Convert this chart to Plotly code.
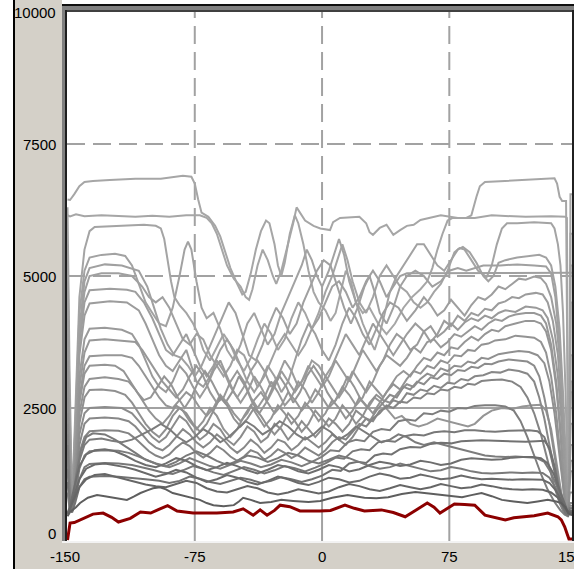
import plotly.graph_objects as go

# ---------------- data (x in axis units, y values) ----------------
s01 = [(-150,6450),(-148.5,6440),(-146,6550),(-143,6700),(-140,6780),(-135,6800),(-125,6820),(-110,6840),(-95,6840),(-88,6880),(-82,6900),(-77,6880),(-75,6750),(-73,6450),(-71,6200),(-67,6120),(-63,5950),(-60,5750),(-57,5450),(-54,5150),(-50,4850),(-47,4650),(-45,4700),(-42,5050),(-39,5500),(-36,5850),(-33,6050),(-31,6000),(-28,5600),(-26,5200),(-24,5000),(-22,5250),(-19,5800),(-16,6150),(-14,6000),(-11,5600),(-8,5100),(-5,4700),(-2,4500),(2,4350),(5,4150),(8,4300),(11,4700),(14,5100),(17,4900),(20,4500),(24,4300),(28,4400),(33,4100),(38,3900),(43,4100),(48,4400),(53,4600),(58,4750),(62,4900),(65,5150),(68,5500),(71,5800),(74,6050),(77,6100),(85,6100),(88,6150),(91,6500),(93,6700),(96,6780),(110,6800),(125,6830),(137,6850),(138.5,6750),(140,6500),(141.5,6420),(143.8,6420),(144.5,3500),(145,900),(145.4,600),(145.9,2500),(146.4,6550),(147.5,6550)]
s02 = [(-150,6150),(-148.5,6130),(-145,6170),(-140,6130),(-130,6150),(-120,6130),(-110,6120),(-100,6140),(-90,6120),(-80,6150),(-72,6150),(-68,6100),(-65,6000),(-62,5800),(-59,5500),(-56,5200),(-52,4950),(-48,4800),(-45,4600),(-43,4550),(-41,4750),(-38,5200),(-35,5500),(-32,5300),(-29,5000),(-27,4850),(-24,5100),(-20,5600),(-17,6000),(-15,6300),(-13,6200),(-10,6050),(-5,5950),(-1,5900),(4.7,5870),(6.5,6020),(10.6,6100),(22,6120),(26,6000),(28,5830),(30,5780),(34,5910),(38,5970),(42,5780),(46,5870),(50,5950),(54,5970),(58,6060),(70,6150),(80,6100),(90,6100),(100,6150),(120,6120),(135,6130),(143.5,6120),(144.3,6100),(145,2000),(145.4,650),(146,1800),(146.6,4500),(147.5,4500)]
s03 = [(-150,6300),(-148.8,3200),(-147.3,700),(-145.5,2500),(-143,4600),(-140,5500),(-137,5850),(-134,5930),(-120,5950),(-105,5970),(-98,5950),(-95,5900),(-93,5700),(-91,5300),(-89,4900),(-87,4600),(-84,4450),(-80,4300),(-76,4100),(-73,3900),(-70,3600),(-66,3400),(-62,3650),(-58,3900),(-54,3700),(-50,3400),(-46,3200),(-42,3450),(-38,3800),(-34,4100),(-30,3900),(-26,3600),(-22,3800),(-18,4200),(-14,4500),(-10,4300),(-6,4000),(-2,4300),(2,4700),(6,5000),(9,5300),(12,5600),(15,5300),(18,4900),(22,4500),(26,4300),(30,4600),(34,5000),(38,5200),(42,5000),(46,4800),(50,4700),(54,4500),(58,4400),(62,4500),(66,4700),(70,4850),(74,5100),(78,5450),(81,5530),(84,5500),(88,5300),(92,5100),(97,4980),(100,5200),(103,5600),(106,5900),(109,6000),(115,6000),(125,6020),(135,6000),(137,5900),(139,5600),(140.5,5200),(142,4300),(143.5,2800),(144.6,1000),(145.2,560),(145.8,1600),(146.4,5800),(147.5,5800)]
s04 = [(-150,5600),(-148.8,2500),(-147.2,650),(-145.5,2200),(-143,4300),(-140,5100),(-137,5350),(-130,5400),(-122,5420),(-116,5380),(-112,5200),(-108,4850),(-104,4500),(-100,4300),(-96,4100),(-92,4050),(-88,4400),(-84,5000),(-81,5500),(-79,5650),(-77,5500),(-74,4900),(-71,4400),(-68,4200),(-64,4300),(-60,4000),(-56,3600),(-52,3400),(-48,3700),(-44,4100),(-40,4300),(-36,4000),(-32,3700),(-28,3900),(-24,4300),(-20,4600),(-16,4900),(-12,5200),(-9,5500),(-6,5300),(-3,5000),(0,4800),(4,5100),(8,5500),(10,5700),(13,5400),(16,4900),(20,4500),(24,4100),(28,3800),(31,3600),(34,3900),(37,4300),(40,4700),(44,5000),(48,5200),(52,5400),(56,5600),(60,5600),(64,5400),(68,5200),(72,5100),(76,5300),(80,5500),(83,5550),(87,5450),(91,5250),(95,5000),(98,4900),(101,5000),(104,5250),(108,5300),(115,5350),(122,5380),(128,5400),(132,5350),(135,5200),(137.5,4800),(140,4000),(142,2800),(144,1300),(145,550),(145.8,1800),(146.5,5200),(147.5,5200)]
s05 = [(-150,5300),(-148.8,2300),(-147.3,600),(-145.5,2000),(-143,4000),(-140,4900),(-137,5150),(-128,5220),(-118,5200),(-108,5100),(-103,4800),(-99,4400),(-95,4000),(-91,3700),(-87,3500),(-83,3450),(-79,3300),(-75,3100),(-71,3300),(-67,3600),(-63,3900),(-59,4200),(-55,4500),(-51,4300),(-47,3900),(-43,3500),(-39,3400),(-35,3700),(-31,4100),(-27,4400),(-23,4200),(-19,3900),(-15,4100),(-11,4500),(-7,4800),(-3,5100),(1,5300),(5,5200),(9,4800),(13,4400),(17,4100),(21,4400),(25,4800),(28,5000),(31,4700),(34,4300),(38,4100),(42,4400),(46,4800),(50,5000),(55,5100),(60,5000),(65,4800),(70,4900),(75,5100),(80,5150),(85,5100),(90,5150),(95,5200),(105,5200),(115,5220),(125,5200),(132,5180),(135,5050),(137.5,4600),(140,3700),(142,2400),(144,1000),(145,480),(145.8,1500),(146.5,3500),(147.5,3500)]
s06 = [(-150,5100),(-148.8,2000),(-147.3,650),(-145.5,2000),(-143,3900),(-140,4700),(-137,5000),(-130,5050),(-120,5050),(-112,5000),(-106,4800),(-102,4600),(-98,4500),(-94,4600),(-90,4400),(-86,4100),(-82,3800),(-78,3700),(-74,3900),(-70,3800),(-66,3500),(-62,3300),(-58,3100),(-54,3300),(-50,3600),(-46,3500),(-42,3200),(-38,2900),(-34,3100),(-30,3400),(-26,3700),(-22,3900),(-18,3700),(-14,3500),(-10,3700),(-6,4000),(-2,4200),(2,4500),(6,4800),(10,4900),(14,4700),(18,4400),(22,4600),(26,4900),(30,5100),(34,4900),(38,4600),(42,4800),(46,5000),(50,5050),(60,5050),(70,5060),(80,5050),(90,5050),(100,5060),(110,5050),(120,5060),(130,5050),(140,5060),(147.5,5060)]
s07 = [(-150,4900),(-148.8,2000),(-147.3,600),(-145.5,1900),(-143,3700),(-140,4500),(-137,4730),(-125,4760),(-115,4740),(-110,4700),(-105,4500),(-100,4200),(-96,3900),(-92,3600),(-88,3500),(-84,3700),(-80,3900),(-76,3600),(-72,3300),(-68,3100),(-64,3300),(-60,3600),(-56,3800),(-52,3600),(-48,3300),(-44,3000),(-40,2800),(-36,3000),(-32,3300),(-28,3100),(-24,2800),(-20,3000),(-16,3400),(-12,3800),(-8,4100),(-4,3900),(0,3600),(4,3400),(8,3700),(12,4100),(16,4400),(20,4200),(24,3900),(28,3700),(32,4000),(36,4300),(40,4500),(45,4400),(50,4150),(55,4350),(60,4600),(64,4450),(68,4250),(72,4350),(76,4550),(80,4400),(84,4250),(88,4450),(92,4600),(96,4550),(100,4650),(104,4800),(108,4750),(112,4850),(116,4950),(120,4930),(125,4990),(129,4960),(132,4850),(135,4600),(138,4100),(140.5,3300),(142.5,2200),(144,1200),(145,600),(145.9,1500),(146.6,3000),(147.5,3000)]
s08 = [(-150,4200),(-148.8,1800),(-147.3,620),(-145.5,1800),(-143,3500),(-140,4250),(-137,4480),(-125,4520),(-115,4500),(-108,4350),(-104,4100),(-100,3800),(-96,3500),(-92,3300),(-88,3200),(-84,3400),(-80,3600),(-77,3300),(-74,3000),(-70,2900),(-66,3100),(-62,3400),(-58,3200),(-54,2900),(-50,2700),(-46,2900),(-42,3200),(-38,3400),(-34,3200),(-30,2900),(-26,3100),(-22,3400),(-18,3200),(-14,2900),(-10,3100),(-6,3400),(-2,3300),(2,3100),(6,3300),(10,3600),(14,3900),(18,3700),(22,3500),(26,3800),(30,4100),(34,3900),(38,3700),(42,3500),(46,3700),(50,3900),(55,4100),(60,3950),(64,3750),(68,3900),(72,4150),(76,4050),(80,4250),(84,4150),(88,4300),(92,4250),(96,4380),(100,4350),(104,4480),(108,4520),(112,4600),(116,4580),(120,4650),(126,4680),(130,4650),(133,4500),(136,4150),(139,3500),(141,2600),(143,1500),(144.5,700),(145.5,1200),(146.5,2800),(147.5,2800)]
s09 = [(-150,3900),(-148.8,1600),(-147.3,600),(-145.5,1600),(-143,3100),(-140,3800),(-137,4000),(-128,4020),(-118,3980),(-112,3900),(-108,3700),(-104,3400),(-100,3100),(-96,2900),(-92,2800),(-88,3000),(-84,3300),(-80,3150),(-76,2900),(-72,2700),(-68,2900),(-64,3200),(-60,3400),(-56,3100),(-52,2800),(-48,2600),(-44,2800),(-40,3100),(-36,2900),(-32,2650),(-28,2900),(-24,3200),(-20,3000),(-16,2800),(-12,3000),(-8,3300),(-4,3100),(0,2900),(4,3100),(8,3400),(12,3200),(16,3000),(20,3300),(24,3600),(28,3400),(32,3200),(36,3400),(40,3700),(44,3900),(48,3800),(52,3600),(56,3700),(60,3950),(64,4050),(68,3850),(72,3950),(76,4100),(80,3980),(84,4120),(88,4200),(92,4150),(96,4250),(100,4200),(104,4300),(108,4350),(114,4320),(120,4420),(126,4400),(130,4350),(133,4200),(136,3800),(139,3100),(141,2300),(143,1300),(144.5,650),(145.5,1000),(146.5,2200),(147.5,2200)]
s10 = [(-150,3600),(-148.8,1500),(-147.3,580),(-145.5,1500),(-143,2900),(-140,3550),(-137,3780),(-128,3800),(-118,3780),(-110,3750),(-106,3600),(-102,3400),(-98,3200),(-94,3000),(-90,2850),(-86,2700),(-82,2850),(-78,3100),(-74,3300),(-70,3100),(-66,2800),(-62,2600),(-58,2700),(-54,3000),(-50,3200),(-46,3000),(-42,2700),(-38,2500),(-34,2700),(-30,3000),(-26,2800),(-22,2550),(-18,2700),(-14,3000),(-10,2850),(-6,2600),(-2,2800),(2,3100),(6,2900),(10,2700),(14,2900),(18,3200),(22,3000),(26,2800),(30,3000),(34,3300),(38,3500),(42,3400),(46,3300),(50,3450),(54,3650),(58,3550),(62,3750),(66,3800),(70,3650),(74,3750),(78,3900),(82,3850),(86,3950),(90,4050),(94,3980),(98,4100),(102,4180),(106,4150),(110,4230),(114,4270),(120,4300),(125,4300),(129,4250),(132,4100),(135,3700),(138,3000),(140.5,2100),(142.5,1200),(144.3,600),(145.3,900),(146.5,1800),(147.5,1800)]
s11 = [(-150,3300),(-148.8,1400),(-147.3,600),(-145.5,1400),(-143,2700),(-140,3300),(-137,3480),(-128,3500),(-118,3500),(-112,3450),(-108,3300),(-104,3100),(-100,2900),(-96,2700),(-92,2550),(-88,2500),(-84,2650),(-80,2800),(-76,2700),(-72,2500),(-68,2350),(-64,2500),(-60,2750),(-56,2600),(-52,2400),(-48,2250),(-44,2400),(-40,2650),(-36,2800),(-32,2600),(-28,2400),(-24,2550),(-20,2800),(-16,2650),(-12,2450),(-8,2600),(-4,2850),(0,2700),(4,2500),(8,2650),(12,2900),(16,2750),(20,2550),(24,2700),(28,3000),(32,2850),(36,2700),(40,2900),(44,3100),(48,3200),(52,3100),(56,3300),(60,3450),(64,3400),(68,3550),(72,3500),(76,3650),(80,3620),(84,3750),(88,3850),(92,3780),(96,3900),(100,3980),(104,3950),(108,4050),(114,4100),(120,4150),(125,4150),(129,4100),(132,3950),(135,3600),(138,2900),(140.5,2000),(142.5,1100),(144.3,560),(145.3,800),(146.5,1500),(147.5,1500)]
s12 = [(-150,3000),(-148.8,1300),(-147.3,580),(-145.5,1300),(-143,2400),(-140,2900),(-137,3050),(-128,3080),(-120,3050),(-114,3000),(-110,2850),(-106,2650),(-102,2450),(-98,2300),(-94,2200),(-90,2350),(-86,2550),(-82,2450),(-78,2250),(-74,2100),(-70,2250),(-66,2500),(-62,2350),(-58,2100),(-54,1950),(-50,2100),(-46,2350),(-42,2550),(-38,2350),(-34,2150),(-30,2300),(-26,2550),(-22,2400),(-18,2200),(-14,2350),(-10,2600),(-6,2450),(-2,2250),(2,2400),(6,2650),(10,2500),(14,2300),(18,2450),(22,2700),(26,2550),(30,2400),(34,2600),(38,2800),(42,2950),(46,2850),(50,3050),(54,3200),(58,3150),(62,3300),(66,3250),(70,3400),(74,3350),(78,3500),(82,3480),(86,3600),(90,3580),(94,3700),(98,3720),(102,3780),(108,3800),(114,3870),(120,3850),(125,3830),(129,3750),(132,3550),(135,3100),(138,2400),(140.5,1600),(142.5,900),(144.3,520),(145.3,700),(146.5,1300),(147.5,1300)]
s13 = [(-150,2700),(-148.8,1200),(-147.3,560),(-145.5,1200),(-143,2200),(-140,2700),(-137,2840),(-130,2850),(-122,2820),(-116,2750),(-112,2600),(-108,2400),(-104,2200),(-100,2050),(-96,1950),(-92,2100),(-88,2350),(-84,2500),(-80,2400),(-76,2200),(-72,2050),(-68,2200),(-64,2450),(-60,2700),(-56,2550),(-52,2300),(-48,2150),(-44,2300),(-40,2500),(-36,2350),(-32,2150),(-28,2000),(-24,2150),(-20,2400),(-16,2250),(-12,2050),(-8,2200),(-4,2450),(0,2300),(4,2150),(8,2300),(12,2550),(16,2400),(20,2200),(24,2350),(28,2600),(32,2750),(36,2650),(40,2600),(45,2800),(50,2950),(54,2900),(58,3050),(62,3150),(66,3100),(70,3250),(74,3200),(78,3300),(82,3280),(86,3380),(90,3350),(94,3450),(98,3430),(104,3520),(110,3550),(116,3580),(122,3560),(127,3500),(131,3350),(134,3000),(137,2400),(139.5,1700),(141.5,1100),(143.5,620),(145,560),(146,900),(147.5,900)]
s14 = [(-150,2400),(-148.8,1100),(-147.3,560),(-145.5,1100),(-143,2000),(-140,2400),(-137,2500),(-128,2520),(-118,2500),(-112,2400),(-108,2250),(-104,2100),(-100,1950),(-96,1850),(-92,1950),(-88,2150),(-84,2350),(-80,2250),(-76,2050),(-72,1900),(-68,2000),(-64,2200),(-60,2100),(-56,1900),(-52,1800),(-48,1950),(-44,2150),(-40,2050),(-36,1850),(-32,1950),(-28,2200),(-24,2100),(-20,1900),(-16,2050),(-12,2250),(-8,2100),(-4,1950),(0,2100),(4,2300),(8,2200),(12,2050),(16,2200),(20,2450),(24,2350),(28,2250),(32,2450),(36,2600),(40,2750),(44,2700),(48,2900),(52,2850),(56,3000),(60,2950),(64,3080),(68,3050),(72,3150),(76,3120),(80,3220),(84,3200),(88,3280),(92,3260),(96,3340),(100,3330),(104,3380),(110,3420),(116,3400),(121,3380),(125,3300),(128,3100),(131,2700),(134,2200),(137,1600),(140,1000),(142.5,600),(144.5,500),(145.8,700),(147.5,700)]
s15 = [(-150,2200),(-148.8,1000),(-147.3,560),(-145.5,1000),(-143,1800),(-140,2200),(-137,2300),(-128,2320),(-120,2300),(-114,2250),(-110,2150),(-106,2000),(-102,1850),(-98,1750),(-94,1700),(-90,1800),(-86,1950),(-82,2100),(-78,2000),(-74,1850),(-70,1750),(-66,1850),(-62,2000),(-58,1900),(-54,1750),(-50,1650),(-46,1750),(-42,1900),(-38,1800),(-34,1650),(-30,1750),(-26,1900),(-22,1850),(-18,1700),(-14,1800),(-10,1950),(-6,1850),(-2,1750),(2,1850),(6,2000),(10,1900),(14,1800),(18,1950),(22,2150),(26,2300),(30,2250),(34,2450),(38,2500),(42,2650),(46,2600),(50,2780),(54,2750),(58,2850),(62,2820),(66,2920),(70,2880),(74,2980),(78,2960),(82,3050),(86,3020),(90,3100),(95,3120),(100,3180),(105,3170),(110,3230),(116,3200),(121,3150),(125,3000),(128,2700),(131,2300),(134,1800),(137,1300),(140,850),(142.5,560),(144.5,480),(145.8,650),(147.5,650)]
s16 = [(-150,2000),(-148.8,950),(-147.3,560),(-145.5,950),(-143,1650),(-140,1950),(-137,2060),(-128,2080),(-120,2070),(-114,2020),(-110,1920),(-106,1800),(-102,1680),(-98,1600),(-94,1550),(-90,1620),(-86,1750),(-82,1850),(-78,1780),(-74,1650),(-70,1560),(-66,1650),(-62,1780),(-58,1700),(-54,1580),(-50,1500),(-46,1580),(-42,1700),(-38,1650),(-34,1520),(-30,1600),(-26,1720),(-22,1650),(-18,1550),(-14,1620),(-10,1750),(-6,1680),(-2,1600),(2,1700),(6,1850),(10,1950),(14,1900),(18,2050),(22,2200),(26,2150),(30,2300),(34,2400),(38,2550),(42,2500),(46,2620),(50,2600),(54,2700),(58,2680),(62,2780),(66,2760),(70,2850),(74,2830),(78,2900),(82,2880),(86,2960),(90,2940),(94,3010),(100,3030),(106,3040),(112,3000),(117,2900),(121,2700),(125,2400),(129,2000),(133,1500),(137,1000),(140,700),(142.5,520),(144.5,460),(145.8,600),(147.5,600)]
s17 = [(-150,1600),(-148.8,800),(-147.3,560),(-145.5,850),(-143,1350),(-140,1600),(-137,1680),(-128,1700),(-120,1690),(-114,1650),(-108,1580),(-102,1500),(-96,1420),(-90,1380),(-84,1450),(-78,1550),(-72,1480),(-66,1400),(-60,1350),(-54,1420),(-48,1500),(-42,1450),(-36,1380),(-30,1430),(-24,1520),(-18,1470),(-12,1400),(-6,1480),(0,1580),(5,1700),(10,1680),(15,1850),(20,1900),(25,1870),(30,2050),(35,2100),(40,2080),(45,2250),(50,2280),(55,2260),(60,2400),(65,2380),(70,2450),(75,2430),(80,2500),(85,2490),(90,2540),(96,2550),(102,2550),(108,2530),(113,2450),(117,2250),(121,1950),(125,1600),(129,1250),(133,950),(137,720),(140.5,560),(143,480),(145,450),(146,520),(147.5,520)]
s18 = [(-150,1350),(-148.8,700),(-147.3,540),(-145.5,780),(-143,1150),(-140,1380),(-137,1440),(-128,1460),(-120,1450),(-112,1420),(-106,1380),(-100,1330),(-94,1280),(-88,1250),(-82,1320),(-76,1400),(-70,1350),(-64,1280),(-58,1230),(-52,1300),(-46,1380),(-40,1330),(-34,1260),(-28,1320),(-22,1400),(-16,1360),(-10,1300),(-4,1370),(2,1450),(8,1560),(13,1540),(18,1680),(23,1720),(28,1700),(33,1850),(38,1880),(43,1860),(48,1960),(54,2000),(60,1980),(66,2040),(72,2060),(78,2040),(84,2080),(90,2080),(96,2060),(102,2050),(110,2070),(116,2070),(122,2080),(127,2060),(131,1950),(134,1700),(137,1300),(139.5,900),(141.5,650),(143.5,500),(145,470),(146,550),(147.5,550)]
s19 = [(-150,1100),(-148.8,650),(-147.3,520),(-145.5,700),(-143,1000),(-140,1150),(-137,1200),(-128,1210),(-120,1200),(-112,1180),(-104,1150),(-96,1120),(-90,1080),(-84,1120),(-78,1200),(-72,1160),(-66,1100),(-60,1060),(-54,1120),(-48,1180),(-42,1140),(-36,1080),(-30,1120),(-24,1190),(-18,1150),(-12,1100),(-6,1150),(0,1220),(6,1330),(11,1310),(16,1450),(21,1480),(26,1460),(31,1600),(36,1640),(41,1620),(46,1720),(52,1760),(58,1750),(64,1820),(70,1840),(76,1830),(82,1870),(88,1880),(94,1890),(102,1880),(108,1870),(114,1860),(120,1860),(126,1870),(131,1880),(134,1750),(137,1400),(139.5,1000),(141.5,700),(143.5,520),(145,480),(146,560),(147.5,560)]
s20 = [(-150,450),(-148.5,530),(-145,620),(-142.6,700),(-138,800),(-132.6,850),(-128,830),(-123,800),(-115,760),(-111,820),(-107,890),(-103,940),(-99.6,980),(-95.5,1000),(-92,960),(-88,890),(-80,820),(-72,760),(-68,700),(-64,660),(-58,640),(-52,660),(-49,730),(-46.5,800),(-42,760),(-36.5,700),(-30,720),(-24,760),(-17,740),(-8,720),(-1,740),(6,800),(15,850),(20,830),(25,800),(32,790),(39,810),(47,870),(55,910),(63,880),(71,850),(77,820),(82.5,810),(88,850),(94,890),(100,830),(106,760),(113,730),(121,700),(127,730),(133,760),(138,730),(141,700),(143.5,620),(145,510),(146.3,480),(147.5,470)]
s21 = [(-150,500),(-148.5,600),(-146,800),(-143,1000),(-139,1150),(-134,1230),(-128,1250),(-122,1200),(-116,1150),(-110,1100),(-104,1050),(-98,1020),(-92,1000),(-86,1060),(-80,1120),(-74,1080),(-68,980),(-62,920),(-56,900),(-50,960),(-44,1020),(-38,980),(-32,900),(-26,860),(-20,900),(-14,960),(-8,920),(-2,880),(4,920),(10,1000),(16,1060),(22,1020),(28,960),(34,930),(40,980),(46,1040),(52,1000),(58,960),(64,1000),(70,1060),(76,1020),(82,980),(88,1000),(94,1050),(100,1020),(106,980),(112,960),(118,950),(124,960),(130,950),(135,900),(139,800),(142,650),(144.5,550),(146,520),(147.5,520)]
s22 = [(-150,480),(-148.5,580),(-146,850),(-143,1150),(-139,1350),(-134,1430),(-128,1450),(-122,1420),(-116,1380),(-110,1330),(-104,1260),(-98,1200),(-92,1250),(-86,1330),(-80,1280),(-74,1180),(-68,1100),(-62,1150),(-56,1230),(-50,1180),(-44,1100),(-38,1050),(-32,1120),(-26,1200),(-20,1150),(-14,1080),(-8,1040),(-2,1100),(4,1180),(10,1150),(16,1090),(22,1120),(28,1200),(34,1260),(40,1220),(46,1160),(52,1180),(58,1240),(64,1200),(70,1150),(76,1170),(82,1220),(88,1180),(94,1150),(100,1160),(106,1150),(112,1140),(118,1150),(124,1150),(130,1140),(134,1080),(137.5,950),(140.5,780),(143,620),(145,520),(146.3,510),(147.5,500)]
s23 = [(-150,500),(-148.5,650),(-146,1000),(-143,1400),(-139,1620),(-134,1700),(-128,1720),(-122,1680),(-116,1600),(-110,1500),(-104,1420),(-98,1380),(-92,1450),(-86,1550),(-80,1500),(-74,1400),(-68,1320),(-62,1380),(-56,1460),(-50,1400),(-44,1320),(-38,1260),(-32,1330),(-26,1420),(-20,1380),(-14,1300),(-8,1260),(-2,1330),(4,1420),(10,1380),(16,1300),(22,1340),(28,1420),(34,1480),(40,1450),(46,1400),(52,1430),(58,1500),(64,1470),(70,1420),(76,1450),(82,1520),(88,1550),(94,1540),(100,1520),(106,1530),(112,1560),(118,1570),(124,1570),(129,1550),(133,1450),(136.5,1250),(139.5,1000),(142,760),(144.5,560),(146,520),(147.5,510)]
s24 = [(-150,900),(-148.8,600),(-147,700),(-145,1200),(-142,1700),(-139,1950),(-135,2020),(-128,2000),(-122,1900),(-116,1780),(-110,1650),(-104,1520),(-98,1450),(-92,1400),(-86,1480),(-80,1600),(-74,1680),(-68,1600),(-62,1500),(-56,1420),(-50,1500),(-44,1600),(-38,1560),(-32,1480),(-26,1550),(-20,1650),(-14,1600),(-8,1500),(-2,1450),(4,1520),(10,1600),(16,1550),(22,1480),(28,1400),(34,1350),(40,1380),(46,1450),(52,1400),(58,1350),(64,1300),(70,1320),(76,1380),(82,1350),(88,1300),(94,1270),(100,1260),(106,1270),(112,1280),(118,1270),(124,1280),(130,1270),(134,1180),(137.5,1000),(140.5,800),(143,620),(145,520),(146.3,500),(147.5,500)]
s25 = [(-150,3400),(-148.8,1400),(-147.3,600),(-145.5,1500),(-143,2600),(-140,3150),(-137,3300),(-128,3320),(-122,3300),(-117,3200),(-113,3000),(-109,2800),(-105,2650),(-101,2700),(-97,2900),(-93,3100),(-89,2950),(-85,2700),(-81,2500),(-77,2700),(-73,3000),(-69,3200),(-65,3000),(-61,2750),(-57,2600),(-53,2800),(-49,3100),(-45,2900),(-41,2600),(-37,2400),(-33,2600),(-29,2900),(-25,3100),(-21,2900),(-17,2600),(-13,2800),(-9,3100),(-5,3300),(-1,3100),(3,2800),(7,2600),(11,2800),(15,3100),(19,2900),(23,2650),(27,2500),(31,2700),(35,2600),(39,2450),(43,2300),(47,2350),(52,2200),(57,2150),(62,2200),(68,2300),(74,2250),(80,2200),(86,2150),(90,2200),(95,2350),(100,2450),(106,2500),(112,2480),(118,2530),(124,2550),(129,2560),(132,2450),(135,2100),(138,1500),(141,900),(143.5,560),(145,500),(146,700),(147.5,700)]
s26 = [(-150,1800),(-148.8,850),(-147.3,560),(-145.5,900),(-143,1500),(-140,1800),(-137,1900),(-130,1920),(-124,1880),(-118,1850),(-112,1900),(-106,2000),(-100,2100),(-95,2200),(-90,2100),(-85,1950),(-80,1850),(-75,1950),(-70,2100),(-65,2000),(-60,1850),(-55,1950),(-50,2100),(-45,2250),(-40,2150),(-35,2000),(-30,2100),(-25,2250),(-20,2150),(-15,2000),(-10,1900),(-5,2000),(0,2150),(5,2050),(10,1900),(15,2000),(20,2150),(25,2050),(30,1950),(35,1850),(40,1900),(45,2000),(50,1950),(55,1850),(60,1800),(66,1850),(72,1800),(78,1750),(84,1700),(90,1650),(96,1600),(102,1580),(108,1570),(114,1580),(120,1570),(126,1560),(131,1480),(134.5,1300),(138,1050),(141,800),(143.5,600),(145,520),(146,600),(147.5,600)]
red = [(-150,0),(-149.7,60),(-149,280),(-148.5,320),(-146,330),(-142.6,380),(-139,440),(-135,490),(-129,510),(-124,430),(-120,340),(-116,380),(-113,410),(-107,530),(-101,510),(-95.5,590),(-91,650),(-85.4,550),(-76,510),(-62,510),(-52.4,530),(-46.5,590),(-40.6,470),(-36.5,570),(-32.4,470),(-28,560),(-24.7,660),(-19,630),(-13,550),(-1.2,550),(5,560),(13.5,660),(19,600),(25,550),(35,570),(42,520),(49,440),(55,560),(62,700),(66,620),(69.5,510),(74,600),(78,680),(84,670),(90,660),(96,470),(102,420),(108,380),(113,420),(118,440),(125,460),(133,510),(136,480),(139,440),(141,380),(143,250),(144.5,110),(145.5,20),(147.5,20)]

gray_series = [s01, s02, s03, s04, s05, s06, s07, s08, s09, s10, s11, s25, s12,
               s13, s14, s15, s16, s26, s17, s18, s19, s24, s23, s22, s21, s20]
gray_colors = ["#a6a6a6", "#a6a6a6", "#a4a4a4", "#a2a2a2", "#a0a0a0", "#a0a0a0",
               "#9e9e9e", "#9c9c9c", "#9a9a9a", "#989898", "#969696", "#959595", "#939393",
               "#909090", "#8c8c8c", "#888888", "#848484", "#7c7c7c", "#7e7e7e", "#787878",
               "#727272", "#7a7a7a", "#6e6e6e", "#6a6a6a", "#666666", "#5e5e5e"]

x_ticks = [-150, -75, 0, 75, 150]
y_ticks = [0, 2500, 5000, 7500, 10000]

# ---------------- geometry ----------------
W, H = 574, 569
ML, MR, MT, MB = 67, 2, 12, 28
XR = [-150.3, 147.3]
YR = [-19, 10000]
PW, PH = W - ML - MR, H - MT - MB


def pxp(px):
    return (px - ML) / PW


def pyp(py):
    return (H - MB - py) / PH


def xv2px(v):
    return ML + (v - XR[0]) / (XR[1] - XR[0]) * PW


fig = go.Figure()
for s, c in zip(gray_series, gray_colors):
    fig.add_trace(go.Scatter(x=[p[0] for p in s], y=[p[1] for p in s], mode="lines",
                             line=dict(color=c, width=2), hoverinfo="skip", showlegend=False))
fig.add_trace(go.Scatter(x=[p[0] for p in red], y=[p[1] for p in red], mode="lines",
                         line=dict(color="#8c0000", width=3), hoverinfo="skip", showlegend=False))

shapes = []
GRID = "#a2a2a2"
# vertical grid lines: dashed above 2500, solid below
for xv in x_ticks[1:-1]:
    shapes.append(dict(type="line", xref="x", yref="y", x0=xv, x1=xv, y0=2500, y1=10000,
                       line=dict(color=GRID, width=2, dash="18px,8px"), layer="below"))
    shapes.append(dict(type="line", xref="x", yref="y", x0=xv, x1=xv, y0=YR[0], y1=2500,
                       line=dict(color=GRID, width=2), layer="below"))
for yv in [5000, 7500]:
    shapes.append(dict(type="line", xref="x", yref="y", x0=XR[0], x1=XR[1], y0=yv, y1=yv,
                       line=dict(color=GRID, width=2, dash="18px,8px"), layer="below"))
shapes.append(dict(type="line", xref="x", yref="y", x0=XR[0], x1=XR[1], y0=2500, y1=2500,
                   line=dict(color=GRID, width=2), layer="below"))


def rect(x0, y0, x1, y1, color):
    shapes.append(dict(type="rect", xref="paper", yref="paper",
                       x0=pxp(x0), x1=pxp(x1), y0=pyp(y1), y1=pyp(y0),
                       fillcolor=color, line=dict(width=0), layer="above"))


# window frame pieces
rect(0, 0, 13, 569, "#ffffff")
rect(13, 0, 15, 569, "#000000")
rect(62, 0, 574, 4, "#ffffff")
rect(62, 4, 574, 6, "#101010")
rect(62, 6, 574, 10, "#808080")
rect(62, 10, 574, 12, "#404040")
rect(62, 6, 65, 541, "#808080")
rect(65, 10, 67, 541, "#202020")
rect(572, 10, 574, 541, "#202020")
rect(62, 541, 574, 543, "#f2f2f2")

annotations = []
FONT = dict(family="Liberation Sans, Arial, sans-serif", size=15, color="#000000")
for yv in y_ticks:
    annotations.append(dict(xref="paper", yref="y", x=pxp(58), y=yv, text=str(yv),
                            showarrow=False, xanchor="right", yanchor="middle",
                            yshift=7 if yv == 0 else 0, font=FONT))
for xv in x_ticks:
    cx = xv2px(xv)
    if xv == 150:
        cx = 570.5
    elif xv == -150:
        cx = 65
    annotations.append(dict(xref="paper", yref="paper", x=pxp(cx), y=pyp(556.5), text=str(xv),
                            showarrow=False, xanchor="center", yanchor="middle", font=FONT))

fig.update_layout(
    width=W, height=H,
    margin=dict(l=ML, r=MR, t=MT, b=MB, pad=0),
    paper_bgcolor="#d4d0c8",
    plot_bgcolor="#ffffff",
    xaxis=dict(range=XR, showgrid=False, zeroline=False, showticklabels=False,
               showline=False, ticks="", fixedrange=True),
    yaxis=dict(range=YR, showgrid=False, zeroline=False, showticklabels=False,
               showline=False, ticks="", fixedrange=True),
    shapes=shapes,
    annotations=annotations,
    showlegend=False,
)

fig.write_html("out.html", config={"displayModeBar": False})
